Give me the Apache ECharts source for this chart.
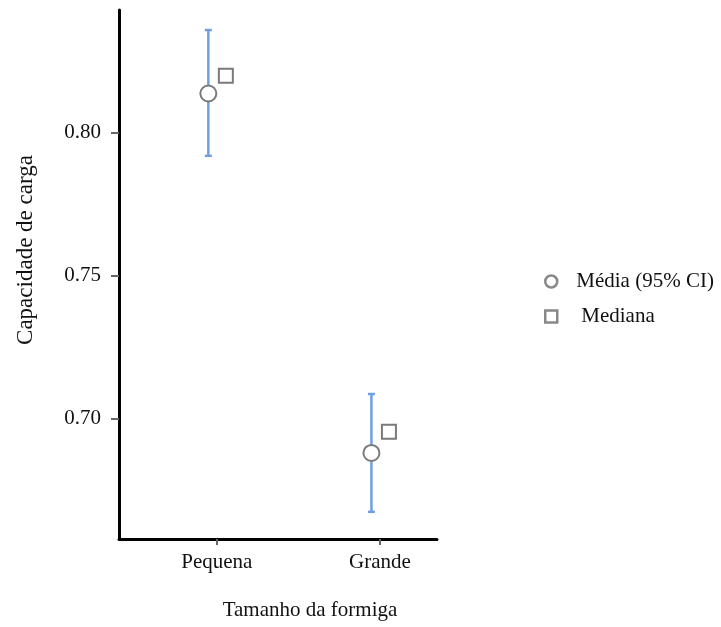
<!DOCTYPE html>
<html><head><meta charset="utf-8">
<script src="https://cdn.jsdelivr.net/npm/echarts@6/dist/echarts.min.js"></script>
<style>html,body{margin:0;padding:0;background:#fff}#c{width:721px;height:627px}</style>
</head><body><div id="c"></div>
<script>
const categories = ['Pequena', 'Grande'];
const meanValues = [0.8138, 0.6881];
const ciLower = [0.7920, 0.6675];
const ciUpper = [0.8360, 0.7087];
const medianValues = [0.8200, 0.6955];
const yTicks = [0.70, 0.75, 0.80];
const xPositions = [1, 2];

const FONT = '"Liberation Serif", "DejaVu Serif", serif';
const chart = echarts.init(document.getElementById('c'));

const errData = xPositions.map((x, i) => [x, ciLower[i], ciUpper[i]]);
const meanData = xPositions.map((x, i) => [x, meanValues[i]]);
const medData = xPositions.map((x, i) => [x, medianValues[i]]);

chart.setOption({
  animation: false,
  backgroundColor: '#fff',
  grid: { left: 119, top: 10, right: 284, bottom: 88, containLabel: false },
  xAxis: {
    type: 'value', min: 0.4, max: 2.35,
    splitLine: { show: false },
    axisLine: { show: true, onZero: false, lineStyle: { color: '#000', width: 3 } },
    axisTick: { show: true, customValues: xPositions, length: 6, lineStyle: { color: '#666', width: 2 } },
    axisLabel: { customValues: xPositions, margin: 13, color: '#111', fontFamily: FONT, fontSize: 21,
      formatter: v => categories[xPositions.indexOf(v)] || '' }
  },
  yAxis: {
    type: 'value', min: 0.658, max: 0.843,
    splitLine: { show: false },
    axisLine: { show: true, onZero: false, lineStyle: { color: '#000', width: 3 } },
    axisTick: { show: true, customValues: yTicks, length: 8, lineStyle: { color: '#666', width: 2 } },
    axisLabel: { customValues: yTicks, margin: 18, color: '#111', fontFamily: FONT, fontSize: 21,
      formatter: v => v.toFixed(2) }
  },
  legend: {
    orient: 'vertical', left: 544, top: 271, padding: 0, itemWidth: 12, itemHeight: 12, itemGap: 14,
    itemStyle: { borderWidth: 2.5, borderColor: '#888', color: '#fff' },
    textStyle: { fontFamily: FONT, fontSize: 21, color: '#111' },
    data: [
      { name: 'Média (95% CI)', icon: 'circle', textStyle: { padding: [0, 0, 0, 14] } },
      { name: 'Mediana', icon: 'rect', textStyle: { padding: [0, 0, 10, 19] } }
    ]
  },
  graphic: [
    { type: 'text', x: 310, y: 610, style: { text: 'Tamanho da formiga', font: '21px ' + FONT, fill: '#111', align: 'center', verticalAlign: 'middle' } },
    { type: 'text', x: 26, y: 250, rotation: Math.PI / 2, style: { text: 'Capacidade de carga', font: '23px ' + FONT, fill: '#111', align: 'center', verticalAlign: 'middle' } }
  ],
  series: [
    {
      type: 'custom', name: 'CI', z: 2,
      renderItem: function (params, api) {
        const lo = api.coord([api.value(0), api.value(1)]);
        const hi = api.coord([api.value(0), api.value(2)]);
        const x = lo[0] - 8.5;
        const st = { stroke: '#6f9fe0', lineWidth: 2.5 };
        return { type: 'group', children: [
          { type: 'line', shape: { x1: x, y1: lo[1], x2: x, y2: hi[1] }, style: st },
          { type: 'line', shape: { x1: x - 3.5, y1: lo[1], x2: x + 3.5, y2: lo[1] }, style: st },
          { type: 'line', shape: { x1: x - 3.5, y1: hi[1], x2: x + 3.5, y2: hi[1] }, style: st }
        ] };
      },
      encode: { x: 0, y: [1, 2] },
      data: errData
    },
    {
      type: 'scatter', name: 'Média (95% CI)', z: 5, symbol: 'circle', symbolSize: 16,
      symbolOffset: [-8.5, 0],
      itemStyle: { color: '#fff', borderColor: '#7a7a7a', borderWidth: 2, opacity: 1 },
      data: meanData
    },
    {
      type: 'scatter', name: 'Mediana', z: 5, symbol: 'rect', symbolSize: 14,
      symbolOffset: [9, 0],
      itemStyle: { color: '#fff', borderColor: '#7a7a7a', borderWidth: 2, opacity: 1 },
      data: medData
    }
  ]
});
</script></body></html>
